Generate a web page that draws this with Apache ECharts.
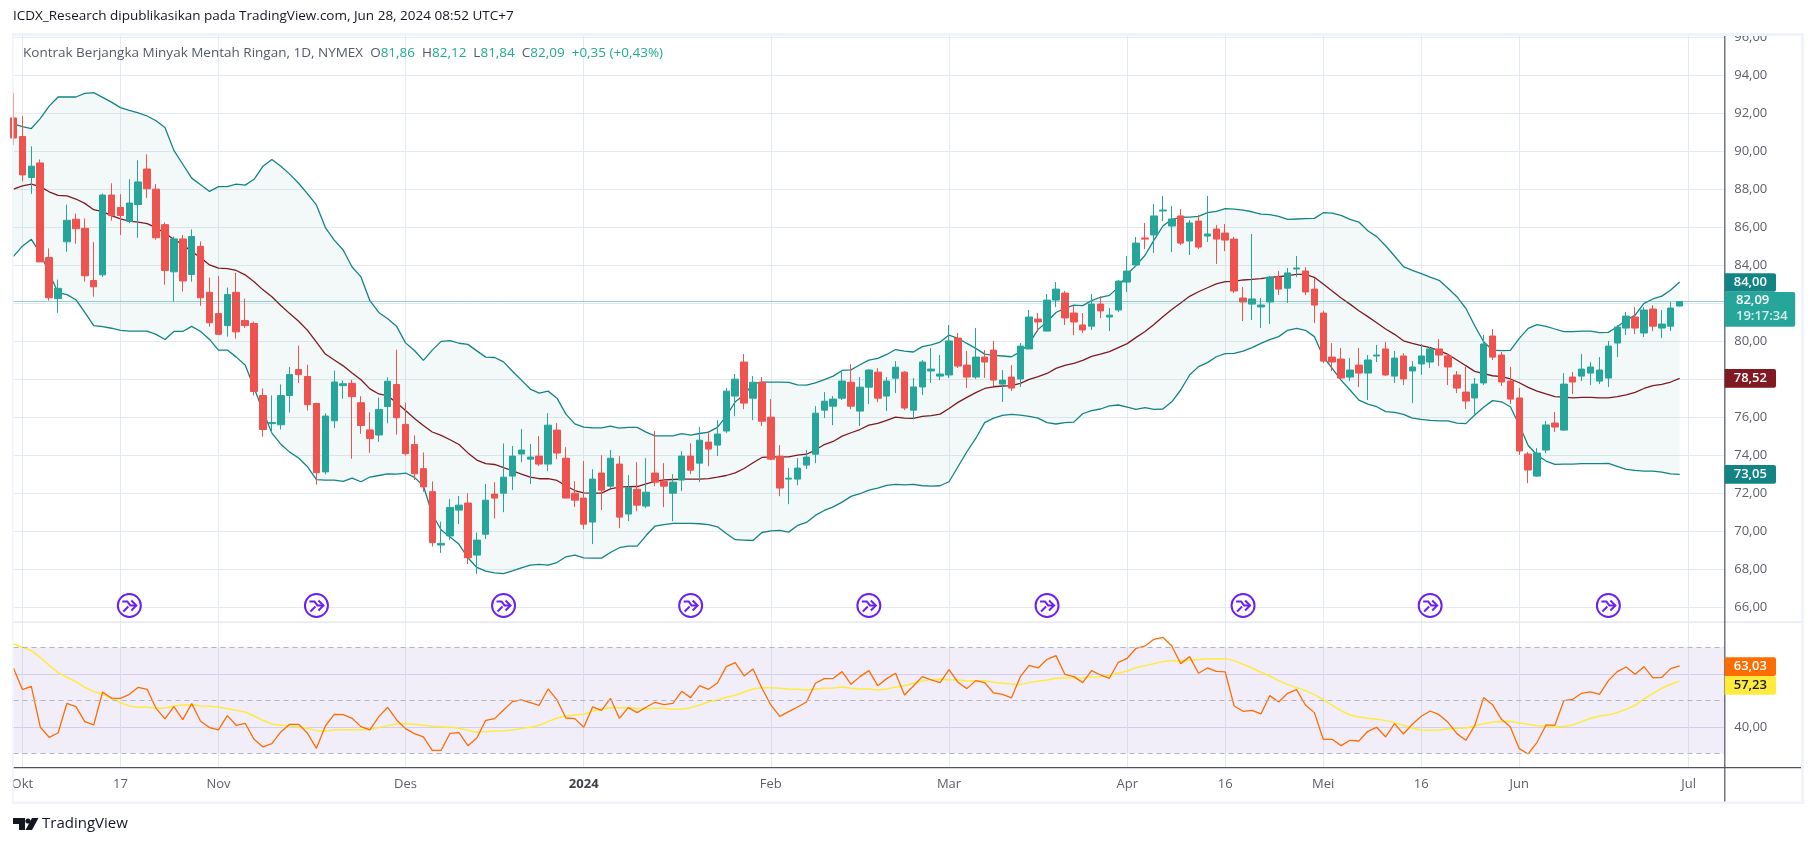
<!DOCTYPE html>
<html><head><meta charset="utf-8">
<style>html,body{margin:0;padding:0;background:#fff}#c{width:1814px;height:846px}</style>
<script src="https://cdn.jsdelivr.net/npm/echarts@6/dist/echarts.min.js"></script>
</head><body><div id="c"></div>
<script>
const opens=[91.76,90.78,88.62,89.39,84.41,82.25,85.24,86.43,85.95,83.2,83.5,87.7,87.05,86.31,87.2,89.07,88.01,86.14,83.66,85.39,83.52,85,82.58,81.46,80.83,82.58,81.1,80.94,77.15,75.67,75.61,77.15,78.52,78.15,76.73,73.13,75.82,77.67,77.79,76.77,75.34,75.07,76.57,77.73,75.63,74.57,73.3,72.09,69.28,69.76,71.12,71.49,68.75,69.85,71.96,72.01,72.91,74.07,73.8,73.96,73.54,75.33,73.85,72.01,71.75,70.49,73.07,72.38,73.54,70.91,72.22,71.33,73.07,72.64,72.01,72.7,73.96,73.59,74.7,74.54,75.28,77.12,78.91,77.01,77.85,76.01,73.96,72.75,72.75,73.49,74.06,76.38,76.59,77.01,77.85,76.33,77.59,78.38,77.12,78.06,78.38,76.38,77.6,78.44,78.17,78.23,80.17,78.75,78.12,79.17,79.54,77.75,78.12,78.02,79.6,81.17,80.54,82.17,82.54,81.49,80.86,80.8,81.96,81.28,81.65,83.12,84.02,85.44,85.6,86.86,86.07,86.6,85.28,86.33,85.54,85.91,85.7,85.38,82.28,81.96,81.81,82.07,83.38,82.8,83.81,83.7,82.75,81.49,79.17,79.07,78.12,78.75,78.33,79.23,79.6,78.17,79.23,78.44,78.81,78.91,79.6,79.23,78.23,77.33,77.02,77.81,80.28,79.28,77.91,77.02,74.07,72.91,74.28,75.7,75.33,78.12,78.17,78.33,77.91,78.07,79.91,80.7,81.28,80.44,81.7,80.7,80.8,81.86];
const closes=[90.7,88.76,89.22,84.18,82.29,82.79,86.37,85.93,83.45,82.87,87.7,86.62,86.62,87.28,88.39,88.03,85.45,83.73,85.39,83.18,85.52,82.29,80.98,80.37,82.46,80.5,80.83,77.36,75.36,75.73,77.15,78.25,78.25,76.67,73.09,76.07,77.86,77.77,77.09,75.57,74.88,76.42,77.9,75.98,74.09,73.03,72.34,69.41,69.37,71.26,71.38,68.61,69.54,71.64,71.75,72.85,73.96,74.28,73.91,73.54,75.59,74.12,71.75,71.64,70.38,72.75,72.17,73.85,70.75,72.31,71.38,72.06,72.59,72.38,72.59,73.96,73.22,74.8,74.33,75.12,77.38,78.01,76.75,77.85,75.8,73.8,72.28,72.8,73.33,73.91,76.22,76.85,76.96,77.91,76.59,77.59,78.49,77.01,77.91,78.64,76.49,77.6,78.91,78.54,78.28,80.02,78.7,78.12,79.17,78.91,77.96,77.96,77.54,79.75,81.28,81.02,82.17,82.75,81.23,81.02,80.6,81.96,81.6,81.38,83.17,83.7,85.17,85.38,86.6,86.91,86.44,85.17,86.23,84.96,85.65,85.38,85.33,82.65,82.07,82.23,81.91,83.38,82.75,83.6,83.86,82.6,81.91,78.96,78.91,78.07,78.49,78.33,79.02,79.28,78.23,79.12,78.02,78.65,79.23,79.6,79.28,78.65,77.54,76.86,77.75,79.86,79.17,77.86,76.96,74.23,73.23,74.12,75.6,75.49,77.75,77.86,78.54,78.65,78.49,79.75,80.75,81.33,80.7,81.65,80.8,80.91,81.75,82.09];
const lows=[90.34,88.43,87.76,84.18,82.14,81.5,84.72,85.14,83.14,82.35,83.39,86.35,85.6,86.22,85.45,87.55,85.35,82.98,82.1,82.62,83.14,81.87,80.77,80.33,80.25,80.14,80.71,77.15,74.98,75.17,75.36,76.25,77.81,76.36,72.45,73,75.44,76.98,73.82,75.13,74.13,74.71,75.69,75.09,73.98,72.7,72.09,69.2,68.87,69.55,70.38,68.28,67.75,69.59,70.68,71.01,72.17,73.64,72.49,73.43,73.17,73.8,71.75,71.28,70.12,69.33,71.12,72.28,70.17,70.54,71.06,71.22,72.38,71.28,70.54,72.12,73.01,72.59,73.43,73.96,75.17,76.06,76.43,75.85,75.54,73.75,71.85,71.43,72.43,73.28,73.59,75.96,75.59,76.91,76.43,75.54,76.7,76.8,76.33,77.28,76.38,75.89,77.17,77.81,77.96,78.07,78.6,77.54,78.02,78.07,77.65,76.81,77.38,77.6,79.6,80.49,80.54,81.8,80.86,80.33,80.44,80.6,81.23,80.54,81.54,82.6,84.02,84.86,84.65,86.33,84.7,85.07,84.54,84.86,85.23,84.07,84.75,82.54,81.07,81.12,80.7,80.91,82.44,82.02,83.38,82.44,80.96,78.86,78.44,78.02,77.91,77.6,76.91,78.91,78.17,77.81,77.7,76.75,78.23,78.6,78.7,77.7,77.28,76.44,76.17,77.7,79.02,77.65,76.7,74.02,72.54,72.86,74.12,75.23,75.28,77.23,77.91,77.7,77.75,77.6,79.17,80.33,80.38,80.23,80.54,80.17,80.54,81.84];
const highs=[93.07,91.86,90.26,89.57,84.89,83.25,87.2,86.72,86.47,85.22,87.78,88.32,87.74,88.53,89.53,89.84,88.28,86.26,85.52,85.6,85.89,85.26,83.35,83.43,82.83,83.6,82.25,81.04,77.52,77.15,77.73,78.65,79.77,78.77,76.77,76.21,78.46,77.94,77.98,77.11,76.27,77.04,78.11,79.56,76.77,75.05,74.15,72.63,70.51,71.7,71.86,72.01,69.94,72.49,72.59,74.63,74.49,75.38,74.59,75.01,76.22,75.7,74.43,72.64,73.7,73.27,74.01,74.28,73.96,72.96,73.64,73.85,75.28,73.59,73.01,74.22,74.63,75.49,75.28,75.85,77.54,78.28,79.33,78.17,78.12,76.96,74.54,73.33,73.85,74.28,76.59,77.33,77.12,78.49,78.8,78.12,78.54,78.59,78.12,78.96,78.43,78.07,79.02,79.65,79.28,80.86,80.44,79.49,80.7,79.54,80.02,78.49,78.75,79.91,81.65,81.49,82.49,83.12,82.65,81.86,81.49,82.49,82.38,81.75,83.23,84.49,85.49,86.23,87.23,87.65,87.12,86.96,86.38,86.65,87.65,86.12,86.17,85.49,82.86,85.65,82.28,83.44,83.7,83.86,84.49,83.91,83.33,81.6,79.91,79.65,79.12,79.65,79.28,79.81,79.96,79.49,79.38,78.96,79.86,79.7,80.12,79.33,78.44,78.65,78.07,80.33,80.65,79.44,78.65,77.54,74.17,74.38,75.81,76.28,78.33,78.38,79.33,78.91,79.17,80.02,80.86,81.54,81.8,81.8,81.91,81.65,82.07,82.12];
const bbUpper=[91.45,91.3,91.2,91.72,92.38,92.86,92.86,92.86,93.05,93.09,92.84,92.59,92.3,92.15,92.03,91.86,91.61,91.26,90.05,89.32,88.59,88.24,87.89,88.14,88.14,88.28,88.22,88.53,89.22,89.57,89.22,88.8,88.32,87.76,87.18,85.99,85.33,84.81,83.91,83.39,82.14,81.52,81.19,80.79,79.92,79.52,79,79.54,80,80.04,79.9,79.84,79.5,79.17,79.15,78.92,78.43,77.96,77.49,77.28,77.38,77.01,76.17,75.66,75.49,75.45,75.45,75.54,75.43,75.47,75.47,75.22,75.03,75.03,75.03,75.14,75.06,75.15,75.22,75.47,76.06,76.82,77.17,77.77,77.85,77.85,77.85,77.84,77.71,77.7,77.82,77.99,78.17,78.47,78.5,78.77,79.01,79.1,79.31,79.57,79.49,79.44,79.72,79.81,79.96,80.33,80.16,79.89,79.63,79.33,79.26,79.23,79.19,79.46,79.89,80.63,81.03,81.52,81.74,81.91,81.88,82.14,82.32,82.42,82.84,83.53,84,84.53,85.33,86.07,86.42,86.53,86.54,86.58,86.77,86.84,86.98,86.96,86.91,86.82,86.7,86.67,86.58,86.42,86.44,86.46,86.47,86.77,86.75,86.63,86.42,86.28,85.82,85.51,85.03,84.49,83.93,83.74,83.56,83.38,83.21,82.79,82.35,81.74,80.82,79.98,79.54,79.51,79.52,80.16,80.68,80.88,80.79,80.65,80.51,80.51,80.54,80.54,80.46,80.47,80.77,81.12,81.38,82,82.23,82.38,82.7,83.12];
const bbBasis=[88.01,88.18,88.28,88.14,87.87,87.68,87.66,87.49,87.26,86.93,86.83,86.62,86.45,86.33,86.28,86.2,85.99,85.68,85.37,85.1,84.72,84.41,84.02,83.85,83.83,83.73,83.5,83.14,82.71,82.35,81.89,81.46,81.06,80.58,79.96,79.33,79.02,78.71,78.33,77.98,77.5,77.23,77.13,76.77,76.36,75.94,75.57,75.23,75.05,74.82,74.57,74.13,73.75,73.56,73.52,73.36,73.19,73.01,72.85,72.77,72.78,72.68,72.4,72.15,72.03,72.01,72.01,72.24,72.33,72.35,72.36,72.5,72.63,72.71,72.73,72.75,72.75,72.75,72.78,72.85,72.94,73.08,73.31,73.61,73.89,73.92,73.92,73.92,74.01,74.06,74.28,74.57,74.73,75.01,75.19,75.36,75.59,75.68,75.84,76.01,75.96,75.95,76.05,76.09,76.17,76.47,76.79,77.05,77.3,77.52,77.61,77.65,77.67,77.79,78,78.14,78.31,78.58,78.74,78.84,79,79.21,79.33,79.46,79.67,79.88,80.21,80.52,80.89,81.3,81.68,82.02,82.37,82.61,82.82,83.02,83.14,83.16,83.23,83.26,83.3,83.37,83.4,83.46,83.53,83.53,83.37,83.02,82.65,82.28,81.96,81.61,81.3,80.98,80.65,80.37,80.03,79.89,79.77,79.67,79.51,79.31,79.02,78.72,78.42,78.3,78.19,78.14,78.02,77.82,77.58,77.38,77.23,77.09,77.07,77.03,77.05,77.05,77.02,77.02,77.09,77.18,77.31,77.52,77.67,77.74,77.86,78.05];
const bbLower=[84.47,85.01,85.37,84.64,83.6,82.56,82.46,82.19,81.52,80.83,80.77,80.69,80.58,80.54,80.54,80.54,80.37,80.1,80.52,80.52,80.79,80.52,80.1,79.54,79.54,79.17,78.75,77.56,76.32,75.17,74.59,74.17,73.86,73.4,72.72,72.7,72.7,72.63,72.8,72.61,72.86,72.94,73.03,73.01,73.07,72.84,72.4,70.9,70.07,69.7,69.32,68.61,68.1,67.91,67.82,67.78,67.92,68.08,68.22,68.26,68.22,68.36,68.66,68.75,68.61,68.59,68.59,68.89,69.14,69.22,69.22,69.78,70.28,70.36,70.42,70.42,70.42,70.4,70.36,70.24,69.89,69.56,69.54,69.52,69.94,70.03,70.05,69.96,70.31,70.47,70.84,71.1,71.29,71.54,71.84,71.98,72.17,72.28,72.42,72.47,72.45,72.47,72.4,72.38,72.4,72.61,73.4,74.19,74.89,75.72,75.96,76.1,76.16,76.12,76.05,75.96,75.72,75.65,75.72,75.75,76.19,76.35,76.44,76.6,76.65,76.54,76.42,76.51,76.42,76.44,76.82,77.44,78.23,78.67,78.88,79.19,79.35,79.37,79.49,79.67,79.89,80.09,80.25,80.58,80.68,80.58,80.25,79.19,78.58,77.96,77.44,76.91,76.7,76.56,76.3,76.26,76.16,75.96,75.89,75.84,75.81,75.81,75.7,75.67,76.12,76.53,76.88,76.82,76.56,75.6,74.52,74.02,73.7,73.53,73.54,73.54,73.56,73.56,73.56,73.58,73.42,73.26,73.21,73.17,73.17,73.12,73.03,73];
const rsi=[62.08,54.03,55.28,39.94,36.04,37.67,48.87,47.61,41.95,40.69,53.14,50.75,50.75,52.26,54.91,54.15,46.98,42.96,47.61,42.7,48.74,42.08,39.69,38.81,44.21,40.57,41.32,35.28,32.39,33.65,38.05,40.94,40.94,37.55,31.89,40.31,44.72,44.59,43.21,40.06,38.81,43.84,47.36,42.58,39.31,37.42,36.16,31.13,31.13,37.55,37.8,32.89,35.79,42.45,43.08,46.35,49.5,50.13,49.12,48.11,54.28,50.13,43.33,43.08,39.81,47.48,46.23,50.75,43.21,47.23,45.35,47.36,49.25,48.36,48.87,53.4,51.01,55.53,54.15,56.54,62.7,64.21,59.18,61.82,54.53,48.24,43.96,45.72,47.48,49.37,56.42,58.18,58.3,60.82,56.04,58.93,61.19,55.53,58.18,60.19,52.01,55.41,58.93,57.67,56.67,61.57,56.79,54.4,57.42,56.67,52.77,52.26,50.88,58.93,63.21,62.2,65.47,66.86,59.81,58.93,56.67,61.19,59.56,58.3,64.34,65.85,69.62,70.5,73.02,73.77,70.5,63.84,66.48,60.19,62.2,60.94,60.69,47.86,45.85,46.23,44.84,51.76,49.37,52.64,54.03,48.24,45.35,35.28,35.28,32.89,34.91,34.65,38.3,39.81,36.16,41.19,37.3,40.94,43.96,45.97,44.59,41.7,37.42,34.91,40.44,51.01,48.36,42.83,39.94,31.76,29.75,34.15,40.69,40.57,49.87,50.38,52.64,53.14,52.26,57.42,60.82,62.58,59.81,62.7,58.43,58.68,61.95,63.03];
const rsiMa=[71.26,70,68.74,66.23,63.21,60.44,58.68,57.04,54.91,53.27,52.39,50.75,49.12,47.86,47.36,47.36,46.98,47.11,47.86,48.24,48.36,47.86,47.74,47.48,46.85,46.23,45.6,44.09,42.45,41.07,40.57,40.44,40.06,39.43,38.55,38.43,38.81,38.93,38.93,38.93,39.06,39.69,40.44,41.07,41.19,40.94,40.57,40.19,40.06,39.81,39.43,38.68,37.92,38.18,38.43,38.55,38.81,39.31,39.81,40.57,41.95,43.33,44.09,44.47,44.72,45.85,46.6,47.23,47.23,47.23,46.98,46.85,46.98,46.98,46.6,46.73,47.23,48.24,49.37,50.13,51.13,51.89,53.14,54.28,54.78,54.78,54.53,54.28,54.15,53.9,54.28,54.53,54.65,55.03,54.53,54.28,54.28,53.9,54.28,55.03,55.53,56.42,57.3,57.8,57.92,57.8,57.67,57.3,57.42,57.42,56.79,56.42,56.16,55.91,56.67,57.17,57.67,58.3,58.43,58.43,58.43,58.81,58.93,59.43,60.19,61.07,62.33,63.08,63.84,64.59,64.97,64.84,65.09,65.35,65.72,65.72,65.72,64.97,63.58,62.2,60.57,59.18,57.42,55.91,54.78,53.65,52.14,50.25,48.11,46.1,44.47,43.71,43.21,42.83,42.33,41.57,40.57,39.43,38.81,38.68,38.81,39.18,39.43,39.56,40.31,41.19,41.82,41.95,42.08,41.45,40.94,40.44,40.19,39.94,40.19,40.69,41.95,43.21,44.09,44.47,45.35,46.6,48.11,50.5,52.64,54.53,56.04,57.23];
const priceTicks=[66,68,70,72,74,76,78,80,82,84,86,88,90,92,94,96];
const rsiLevels=[70,50,30];
const rsiTicks=[40,60];
const rsiLabelTicks=[40];
const lastPrice=82.09;
const timeTickDates=['2023-10-02','2023-10-17','2023-11-01','2023-12-01','2024-01-02','2024-02-01','2024-03-01','2024-04-01','2024-04-16','2024-05-01','2024-05-16','2024-06-03','2024-07-01'];
const timeTickLabels=['Okt','17','Nov','Des','2024','Feb','Mar','Apr','16','Mei','16','Jun','Jul'];
const holidays=['2023-11-23','2023-12-25','2024-01-01','2024-01-15','2024-02-19','2024-03-29','2024-05-27','2024-06-19','2024-07-04'];
const eventBars=[13,34,55,76,96,116,138,159,179];
const eventLevel=66.1;

// trading-day categories, weekdays without the exchange's closed days
const categories=[];
(function(){let d=new Date(Date.UTC(2023,8,29));
 while(categories.length<193){const s=d.toISOString().slice(0,10),w=d.getUTCDay();
  if(w!==0&&w!==6&&holidays.indexOf(s)<0)categories.push(s);
  d=new Date(d.getTime()+864e5);}})();
const UP='#26a69a',DOWN='#ef5350',GRID='#e3ebf2',AXIS='#50535e',TXT='#5d606b',BB='#138484',BASIS='#801922',FRAME='#f0f3fa';
const FONT='"Open Sans",Roboto,sans-serif';
const tickIdx=timeTickDates.map(d=>categories.indexOf(d));
const labelOf={};timeTickDates.forEach((d,i)=>labelOf[d]=timeTickLabels[i]);
const comma=v=>Number(v).toFixed(2).replace('.',',');
const candle=opens.map((o,i)=>[o,closes[i],lows[i],highs[i]]);
const bandWidth=bbUpper.map((u,i)=>+(u-bbLower[i]).toFixed(2));
const chart=echarts.init(document.getElementById('c'),null,{width:1814,height:846,devicePixelRatio:1});

function tag(x,y,w,h,bg,txt,color){return [
 {type:'rect',z:200,shape:{x,y,width:w,height:h,r:[0,2,2,0]},style:{fill:bg}},
 {type:'text',z:201,x:x+w/2,y:y+h/2,style:{text:txt,fill:color,font:'600 13px '+FONT,align:'center',verticalAlign:'middle'}}];}

const graphics=[
 {type:'rect',z:150,shape:{x:0,y:0,width:1814,height:33},style:{fill:'#fff'}},
 {type:'rect',z:151,shape:{x:12,y:33,width:1792,height:3},style:{fill:FRAME}},
 {type:'rect',z:151,shape:{x:12,y:33,width:1.5,height:770},style:{fill:FRAME}},
 {type:'rect',z:151,shape:{x:1801,y:33,width:3,height:770},style:{fill:FRAME}},
 {type:'rect',z:151,shape:{x:12,y:801.5,width:1792,height:2.5},style:{fill:FRAME}},
 {type:'rect',z:120,shape:{x:13.5,y:621.5,width:1787.5,height:1.2},style:{fill:'#e0e3eb'}},
 {type:'rect',z:120,shape:{x:13.5,y:767,width:1787.5,height:1.2},style:{fill:AXIS}},
 {type:'rect',z:120,shape:{x:1724.2,y:36,width:1.2,height:766},style:{fill:AXIS}},
 {type:'text',z:160,x:13,y:16,style:{text:'ICDX_Research dipublikasikan pada TradingView.com, Jun 28, 2024 08:52 UTC+7',fill:'#131722',font:'13.5px '+FONT,verticalAlign:'middle'}},
 {type:'text',z:160,x:23,y:53,style:{text:'{g|Kontrak Berjangka Minyak Mentah Ringan, 1D, NYMEX  O}{v|81,86}{g|  H}{v|82,12}{g|  L}{v|81,84}{g|  C}{v|82,09}{v|  +0,35 (+0,43%)}',verticalAlign:'middle',
  rich:{g:{fill:'#555a66',font:'13.5px '+FONT},v:{fill:'#22ab94',font:'13.5px '+FONT}}}},
 {type:'polygon',z:160,shape:{points:[[13,818],[25,818],[25,830],[19,830],[19,824],[13,824]]},style:{fill:'#131722'}},
 {type:'circle',z:160,shape:{cx:28,cy:821,r:2.6},style:{fill:'#131722'}},
 {type:'polygon',z:160,shape:{points:[[32,818],[38.5,818],[32,830],[25.5,830]]},style:{fill:'#131722'}},
 {type:'text',z:160,x:42,y:824,style:{text:'TradingView',fill:'#131722',font:'15px '+FONT,verticalAlign:'middle'}},
 ...tag(1724.7,273.3,51.3,18.4,BB,'84,00','#fff'),
 {type:'rect',z:200,shape:{x:1724.7,y:292,width:70.5,height:34.7,r:[0,2,2,0]},style:{fill:UP}},
 {type:'text',z:201,x:1736,y:300.5,style:{text:'82,09',fill:'#fff',font:'600 13px '+FONT,verticalAlign:'middle'}},
 {type:'text',z:201,x:1736,y:316.5,style:{text:'19:17:34',fill:'#d6f0ec',font:'600 13px '+FONT,verticalAlign:'middle'}},
 ...tag(1724.7,369,51.3,18.8,BASIS,'78,52','#fff'),
 ...tag(1724.7,465,51.3,18.7,BB,'73,05','#fff'),
 ...tag(1724.7,657.3,51.3,18.7,'#ff6d00','63,03','#fff'),
 ...tag(1724.7,676,51.3,18.7,'#ffeb3b','57,23','#131722')
];

const option={
 animation:false,backgroundColor:'#fff',
 textStyle:{fontFamily:FONT},
 grid:[{left:13.5,top:36,width:1710.7,height:586,containLabel:false},{left:13.5,top:622.3,width:1710.7,height:145,containLabel:false}],
 xAxis:[0,1].map(g=>({type:'category',gridIndex:g,data:categories,boundaryGap:false,
   axisLine:{show:false},
   axisTick:{show:false,customValues:tickIdx},
   splitLine:{show:true,lineStyle:{color:GRID,width:1}},
   axisLabel:g===1?{show:true,customValues:tickIdx,margin:10,color:TXT,fontSize:13,fontFamily:FONT,hideOverlap:false,
     formatter:v=>labelOf[v]==='2024'?'{b|2024}':(labelOf[v]||''),rich:{b:{fontWeight:'bold',fontSize:13,color:'#3b3f4a',fontFamily:FONT}}}:{show:false}})),
 yAxis:[
  {type:'value',gridIndex:0,position:'right',min:65.23,max:96.07,scale:true,
   axisLine:{show:false},axisTick:{show:false,customValues:priceTicks},
   splitLine:{show:true,lineStyle:{color:GRID,width:1}},
   axisLabel:{customValues:priceTicks,margin:10,color:TXT,fontSize:13,fontFamily:FONT,formatter:comma}},
  {type:'value',gridIndex:1,position:'right',min:24.72,max:79.43,scale:true,
   axisLine:{show:false},axisTick:{show:false,customValues:rsiTicks},
   splitLine:{show:true,lineStyle:{color:'#dcdcf0',width:1}},
   axisLabel:{customValues:rsiLabelTicks,margin:10,color:TXT,fontSize:13,fontFamily:FONT,formatter:comma}}
 ],
 series:[
  {name:'BB base',type:'line',xAxisIndex:0,yAxisIndex:0,data:bbLower,stack:'bb',symbol:'none',lineStyle:{opacity:0},silent:true,z:1},
  {name:'BB fill',type:'line',xAxisIndex:0,yAxisIndex:0,data:bandWidth,stack:'bb',symbol:'none',lineStyle:{opacity:0},areaStyle:{color:BB,opacity:0.05},silent:true,z:1},
  {name:'Upper',type:'line',xAxisIndex:0,yAxisIndex:0,data:bbUpper,symbol:'none',lineStyle:{color:BB,width:1.3},z:2},
  {name:'Basis',type:'line',xAxisIndex:0,yAxisIndex:0,data:bbBasis,symbol:'none',lineStyle:{color:BASIS,width:1.3},z:2},
  {name:'Lower',type:'line',xAxisIndex:0,yAxisIndex:0,data:bbLower,symbol:'none',lineStyle:{color:BB,width:1.3},z:2},
  {name:'CL1!',type:'candlestick',xAxisIndex:0,yAxisIndex:0,data:candle,barWidth:7,z:3,clip:true,
   itemStyle:{color:UP,color0:DOWN,borderColor:UP,borderColor0:DOWN,borderWidth:1},
   markLine:{silent:true,symbol:'none',animation:false,label:{show:false},
     lineStyle:{type:'dotted',color:UP,width:1},data:[{yAxis:lastPrice}]}},
  {name:'Events',type:'custom',xAxisIndex:0,yAxisIndex:0,z:4,silent:true,
   data:eventBars.map(i=>[i,eventLevel]),encode:{x:0,y:1},
   renderItem:(p,api)=>{const c=api.coord([api.value(0),api.value(1)]);const x=c[0],y=c[1];
     const st={stroke:'#6c1ff5',lineWidth:2,fill:null};
     return {type:'group',children:[
      {type:'circle',shape:{cx:x,cy:y,r:11.5},style:{stroke:'#6c1ff5',lineWidth:2,fill:'#fff'}},
      {type:'polyline',shape:{points:[[x-7,y-4],[x-2,y-4],[x+1,y],[x+7,y]]},style:st},
      {type:'polyline',shape:{points:[[x+2,y-5],[x+7,y],[x+2,y+5]]},style:st},
      {type:'polyline',shape:{points:[[x-6,y+6],[x-1,y+1]]},style:st}]};}},
  {name:'RSI',type:'line',xAxisIndex:1,yAxisIndex:1,data:rsi,symbol:'none',lineStyle:{color:'#ff6d00',width:1.3},z:3,
   markArea:{silent:true,itemStyle:{color:'#7e57c2',opacity:0.1},data:[[{yAxis:rsiLevels[2]},{yAxis:rsiLevels[0]}]]},
   markLine:{silent:true,symbol:'none',animation:false,label:{show:false},
     lineStyle:{type:[5,4],color:'#b2b5be',width:1},data:rsiLevels.map(v=>({yAxis:v}))}},
  {name:'RSI MA',type:'line',xAxisIndex:1,yAxisIndex:1,data:rsiMa,symbol:'none',lineStyle:{color:'#ffeb3b',width:1.5},z:2}
 ],
 graphic:{elements:graphics}
};
chart.setOption(option);
</script></body></html>
